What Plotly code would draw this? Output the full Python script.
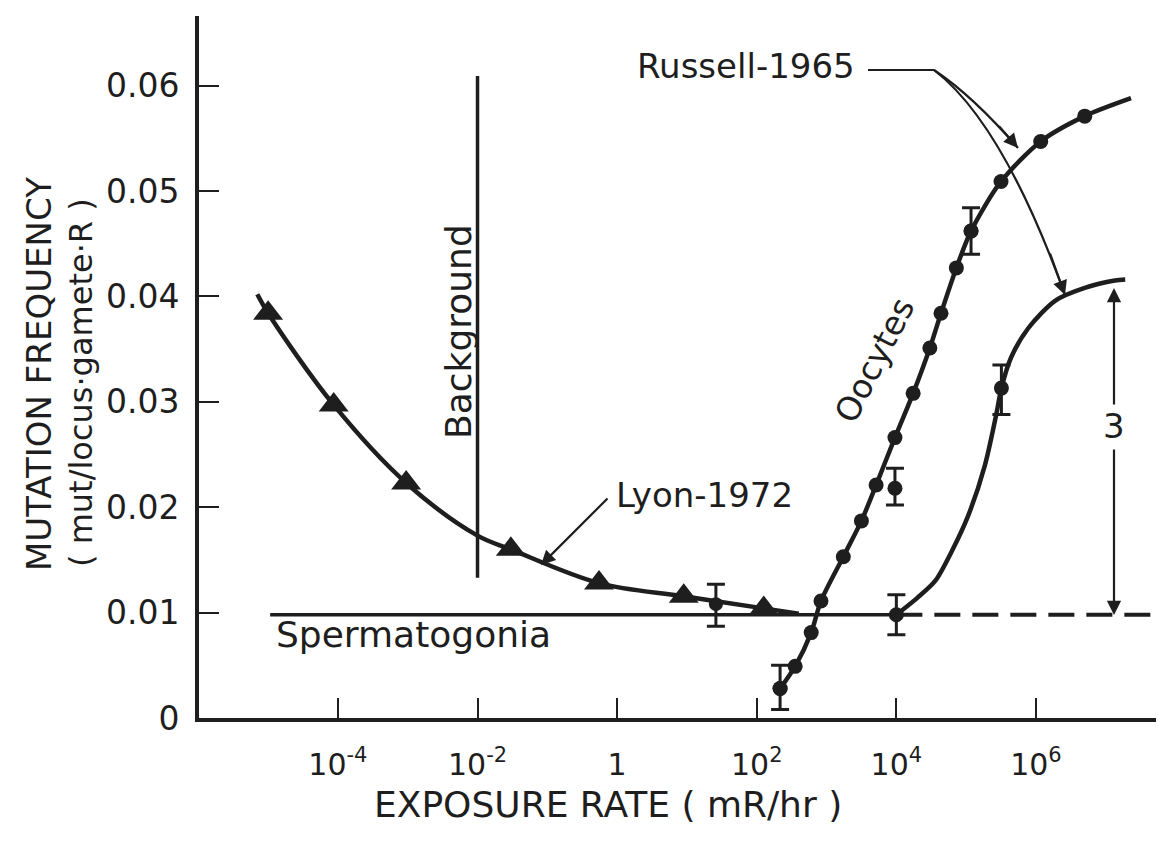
import plotly.graph_objects as go

INK = "#1e1e1e"
FONT = "DejaVu Sans"

# ---------------- data ----------------
# Lyon-1972 (triangles)
lyon_rate = [1.0e-5, 8.7e-5, 9.5e-4, 3.0e-2, 0.55, 9.0, 126.0]
lyon_freq = [0.0384, 0.0297, 0.0223, 0.0160, 0.0128, 0.01155, 0.0104]
lyon_curve_rate = [7.0e-6, 1.0e-5, 8.7e-5, 9.5e-4, 1.0e-2, 3.0e-2, 0.55, 9.0, 126.0, 4.0e2]
lyon_curve_freq = [0.0402, 0.0384, 0.0297, 0.0223, 0.0173, 0.0160, 0.0128, 0.01155, 0.0104, 0.0099]
lyon_err_rate = [26.0]
lyon_err_freq = [0.0108]
lyon_err_plus = [0.0019]
lyon_err_minus = [0.0021]

# Russell-1965, oocytes (circles)
oocyte_rate = [216, 355, 603, 832, 1740, 3160, 5130, 9550, 17400, 30200,
               43600, 72400, 117500, 316000, 1.17e6, 5.0e6]
oocyte_freq = [0.0028, 0.0049, 0.0081, 0.0111, 0.0153, 0.0187, 0.0221, 0.0266, 0.0308, 0.0351,
               0.0384, 0.0427, 0.0462, 0.0509, 0.0547, 0.0571]
oocyte_end_rate = [2.3e7]
oocyte_end_freq = [0.0588]
oocyte_err_rate = [216, 117500, 9550]
oocyte_err_freq = [0.0028, 0.0462, 0.0218]
oocyte_err_plus = [0.0022, 0.0022, 0.0019]
oocyte_err_minus = [0.0020, 0.0022, 0.0016]

# Spermatogonia
sperm_chronic_rate = [1.07e-5, 1.0e4]
sperm_chronic_freq = [0.0098, 0.0098]
sperm_extrap_rate = [1.0e4, 5.5e7]
sperm_extrap_freq = [0.0098, 0.0098]
sperm_acute_rate = [1.0e4, 2.0e4, 3.6e4, 6.2e4, 1.07e5, 1.86e5, 2.7e5, 3.2e5, 4.4e5,
                    7.8e5, 1.9e6, 5.0e6, 1.35e7, 1.9e7]
sperm_acute_freq = [0.0098, 0.0114, 0.0130, 0.0158, 0.0192, 0.0240, 0.0288, 0.0313, 0.0342,
                    0.0370, 0.0396, 0.0408, 0.0415, 0.0416]
sperm_pts_rate = [1.0e4, 3.2e5]
sperm_pts_freq = [0.0098, 0.0313]
sperm_pts_plus = [0.0019, 0.0022]
sperm_pts_minus = [0.0019, 0.0025]

# Background marker line
background_rate = [1.0e-2, 1.0e-2]
background_freq = [0.0133, 0.0609]

# axis ticks
x_tickvals = [1e-4, 1e-2, 1, 1e2, 1e4, 1e6]
x_ticktext = ["10<sup>-4</sup>", "10<sup>-2</sup>", "1", "10<sup>2</sup>", "10<sup>4</sup>", "10<sup>6</sup>"]
y_tickvals = [0, 0.01, 0.02, 0.03, 0.04, 0.05, 0.06]
y_ticktext = ["0", "0.01", "0.02", "0.03", "0.04", "0.05", "0.06"]

# ---------------- layout geometry ----------------
W, H = 1164, 849
ML, MR, MT, MB = 191, 9, 8, 139
PW, PH = W - ML - MR, H - MT - MB


def px(xp):
    return (xp - ML) / PW


def py(yp):
    return (H - MB - yp) / PH


fig = go.Figure()

# background vertical line
fig.add_trace(go.Scatter(x=background_rate, y=background_freq, mode="lines",
                         line=dict(color=INK, width=3.5), hoverinfo="skip"))
# spermatogonia chronic line and dashed extrapolation
fig.add_trace(go.Scatter(x=sperm_chronic_rate, y=sperm_chronic_freq, mode="lines",
                         line=dict(color=INK, width=3.5), hoverinfo="skip"))
fig.add_trace(go.Scatter(x=sperm_extrap_rate, y=sperm_extrap_freq, mode="lines",
                         line=dict(color=INK, width=4, dash="26px,12px"), hoverinfo="skip"))
# Lyon curve
fig.add_trace(go.Scatter(x=lyon_curve_rate, y=lyon_curve_freq, mode="lines",
                         line=dict(color=INK, width=4.5, shape="spline", smoothing=1.0),
                         hoverinfo="skip"))
fig.add_trace(go.Scatter(x=lyon_rate, y=lyon_freq, mode="markers",
                         marker=dict(symbol="triangle-up", size=26, color=INK)))
fig.add_trace(go.Scatter(x=lyon_err_rate, y=lyon_err_freq, mode="markers",
                         marker=dict(symbol="circle", size=14, color=INK),
                         error_y=dict(type="data", array=lyon_err_plus, arrayminus=lyon_err_minus,
                                      color=INK, thickness=3, width=9)))
# oocyte curve
fig.add_trace(go.Scatter(x=oocyte_rate + oocyte_end_rate, y=oocyte_freq + oocyte_end_freq,
                         mode="lines",
                         line=dict(color=INK, width=4.5, shape="spline", smoothing=0.8),
                         hoverinfo="skip"))
fig.add_trace(go.Scatter(x=oocyte_rate, y=oocyte_freq, mode="markers",
                         marker=dict(symbol="circle", size=15, color=INK)))
fig.add_trace(go.Scatter(x=oocyte_err_rate, y=oocyte_err_freq, mode="markers",
                         marker=dict(symbol="circle", size=15, color=INK),
                         error_y=dict(type="data", array=oocyte_err_plus, arrayminus=oocyte_err_minus,
                                      color=INK, thickness=3, width=9)))
# spermatogonia acute curve
fig.add_trace(go.Scatter(x=sperm_acute_rate, y=sperm_acute_freq, mode="lines",
                         line=dict(color=INK, width=4.5, shape="spline", smoothing=0.8),
                         hoverinfo="skip"))
fig.add_trace(go.Scatter(x=sperm_pts_rate, y=sperm_pts_freq, mode="markers",
                         marker=dict(symbol="circle", size=15, color=INK),
                         error_y=dict(type="data", array=sperm_pts_plus, arrayminus=sperm_pts_minus,
                                      color=INK, thickness=3, width=9)))


def label(text, x, y, size, angle=0, xanchor="center"):
    return dict(text=text, x=px(x), y=py(y), xref="paper", yref="paper",
                xanchor=xanchor, yanchor="middle", textangle=angle, showarrow=False,
                font=dict(family=FONT, size=size, color=INK))


def arrow(hx, hy, tx, ty):
    return dict(text="", x=px(hx), y=py(hy), xref="paper", yref="paper", showarrow=True,
                ax=tx - hx, ay=ty - hy, arrowhead=2, arrowsize=1.3, arrowwidth=2.2,
                arrowcolor=INK, standoff=0)


annotations = [
    label("MUTATION FREQUENCY", 31, 366, 34, -90),
    label("( mut/locus·gamete·R )", 73, 375, 32, -90),
    label("EXPOSURE RATE ( mR/hr )", 600, 796, 36),
    label("Background", 450, 324, 36, -90),
    label("Spermatogonia", 266, 626, 36, xanchor="left"),
    label("Lyon-1972", 606, 487, 34, xanchor="left"),
    label("Oocytes", 866, 352, 33, -63),
    label("Russell-1965", 738, 58, 34),
    label("3", 1106, 418, 34),
    # Lyon arrow
    arrow(533, 557, 601, 489),
    # "3" double arrow
    arrow(1106, 280, 1106, 398),
    arrow(1106, 607, 1106, 440),
    # Russell arrowheads (shafts drawn as curved shapes)
    arrow(1010, 140, 1010 - 45 * 0.45, 140 - 52 * 0.45),
    arrow(1057, 287, 1057 - 62 * 0.25, 287 - 172 * 0.25),
]


def pth(pts):
    (x0, y0), (cx, cy), (x1, y1) = pts
    return f"M {px(x0)},{py(y0)} Q {px(cx)},{py(cy)} {px(x1)},{py(y1)}"


shapes = [
    dict(type="line", xref="paper", yref="paper", x0=px(860), y0=py(62), x1=px(926), y1=py(62),
         line=dict(color=INK, width=2.2)),
    dict(type="path", xref="paper", yref="paper", path=pth([(926, 62), (965, 88), (1010, 140)]),
         line=dict(color=INK, width=2.2)),
    dict(type="path", xref="paper", yref="paper", path=pth([(926, 62), (995, 115), (1057, 287)]),
         line=dict(color=INK, width=2.2)),
]

axis_common = dict(showline=True, linewidth=4, linecolor=INK, ticks="inside", ticklen=20,
                   tickwidth=2.2, tickcolor=INK, showgrid=False, zeroline=False)

fig.update_layout(
    width=W, height=H,
    margin=dict(l=ML, r=MR, t=MT, b=MB, pad=0),
    paper_bgcolor="white", plot_bgcolor="white",
    showlegend=False,
    xaxis=dict(type="log", range=[-5.99, 7.82], tickvals=x_tickvals, ticktext=x_ticktext,
               ticklabelstandoff=17, tickfont=dict(family=FONT, size=30, color=INK),
               **axis_common),
    yaxis=dict(range=[0, 0.0666], tickvals=y_tickvals, ticktext=y_ticktext,
               ticklabelstandoff=9, tickfont=dict(family=FONT, size=33, color=INK),
               **axis_common),
    annotations=annotations,
    shapes=shapes,
)

fig.write_html("out.html")
